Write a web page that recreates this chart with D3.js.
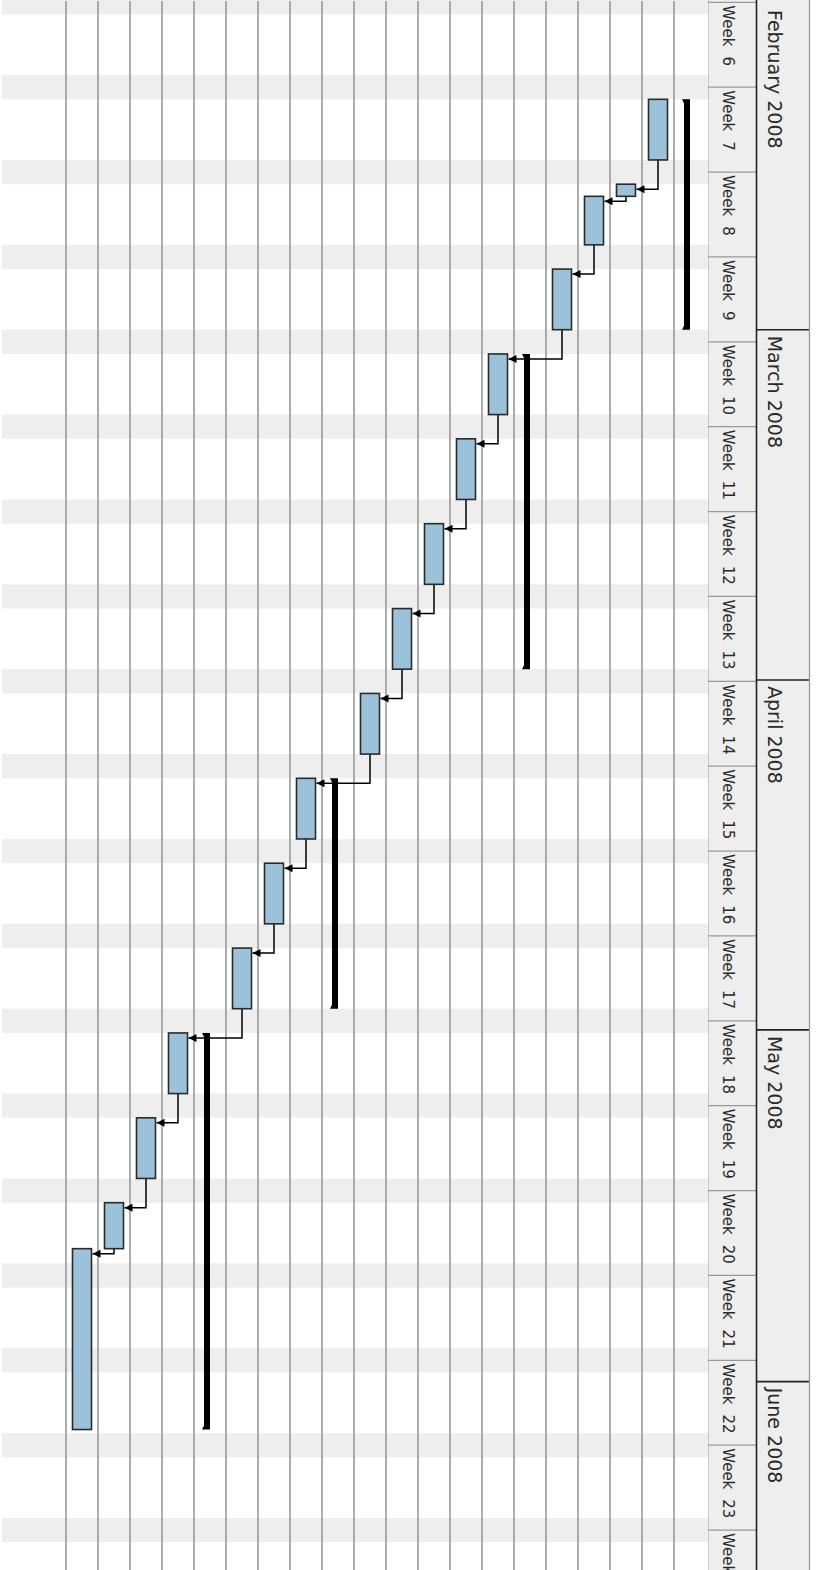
<!DOCTYPE html>
<html>
<head>
<meta charset="utf-8">
<script src="https://cdnjs.cloudflare.com/ajax/libs/d3/7.8.5/d3.min.js"></script>
<style>
body { margin: 0; background: #fff; }
text { font-family: "DejaVu Sans", sans-serif; fill: #2a2a2a; }
</style>
</head>
<body>
<div id="chart"></div>
<script>
// one entry per row, row 0 is the right-most one
var taskStart = ['2008-02-11', '2008-02-11', '2008-02-18', '2008-02-19', '2008-02-25',
                 '2008-03-03', '2008-03-03', '2008-03-10', '2008-03-17', '2008-03-24',
                 '2008-03-31', '2008-04-07', '2008-04-07', '2008-04-14', '2008-04-21',
                 '2008-04-28', '2008-04-28', '2008-05-05', '2008-05-12', '2008-05-15T19:00'];
var taskEnd   = ['2008-03-01', '2008-02-16', '2008-02-19', '2008-02-23', '2008-03-01',
                 '2008-03-29', '2008-03-08', '2008-03-15', '2008-03-22', '2008-03-29',
                 '2008-04-05', '2008-04-26', '2008-04-12', '2008-04-19', '2008-04-26',
                 '2008-05-30T17:00', '2008-05-03', '2008-05-10', '2008-05-15T19:00', '2008-05-30T17:00'];
var taskSummary = [true, false, false, false, false,
                   true, false, false, false, false,
                   false, true, false, false, false,
                   true, false, false, false, false];
var dependencies = [[1, 2], [2, 3], [3, 4], [4, 6], [6, 7], [7, 8], [8, 9], [9, 10],
                    [10, 12], [12, 13], [13, 14], [14, 16], [16, 17], [17, 18], [18, 19]];

var weekNumbers = [6, 7, 8, 9, 10, 11, 12, 13, 14, 15, 16, 17, 18, 19, 20, 21, 22, 23, 24];
var firstWeek = '2008-02-03';

var monthLabels = ['February 2008', 'March 2008', 'April 2008', 'May 2008', 'June 2008'];
var monthStarts = ['2008-02-01', '2008-03-01', '2008-03-29T21:20', '2008-04-27T18:00', '2008-05-26T18:15'];

var width = 822, height = 1570;
var rowCount = 22;

var parseDay = d3.utcParse('%Y-%m-%d');
var parseTime = d3.utcParse('%Y-%m-%dT%H:%M');
var parse = function(s){ return s.length > 10 ? parseTime(s) : parseDay(s); };

var tasks = taskStart.map(function(s, i){
    return {row: i, start: parse(s), end: parse(taskEnd[i]), summary: taskSummary[i]};
});

var svg = d3.select('#chart')
    .append('svg')
    .attr('width', width)
    .attr('height', height);

// time runs down the page, rows run from right to left
var y = d3.scaleUtc()
    .domain([parseDay('2008-02-10'), parseDay('2008-06-01')])
    .range([87.2, 1445.2]);

var x = d3.scaleBand()
    .domain(d3.range(rowCount))
    .range([706, 2]);

var rowW = x.bandwidth();
var chartRight = 708;

// weekend shading
var saturdays = d3.utcDay.range(parseDay('2008-01-20'), parseDay('2008-06-20'))
    .filter(function(d){ return d.getUTCDay() === 6; });

svg.selectAll('rect.weekend')
    .data(saturdays)
    .enter()
    .append('rect')
    .attr('class', 'weekend')
    .attr('x', 2)
    .attr('y', function(d){ return y(d); })
    .attr('width', chartRight - 2)
    .attr('height', function(d){ return y(d3.utcDay.offset(d, 2)) - y(d); })
    .attr('fill', '#eeeeee');

// row separators
svg.selectAll('line.row')
    .data(tasks)
    .enter()
    .append('line')
    .attr('class', 'row')
    .attr('x1', function(d){ return x(d.row); })
    .attr('x2', function(d){ return x(d.row); })
    .attr('y1', 1)
    .attr('y2', height)
    .attr('stroke', '#999')
    .attr('stroke-width', 1.6);

// header
var header = svg.append('g');
header.append('rect')
    .attr('x', chartRight)
    .attr('y', 0)
    .attr('width', 101)
    .attr('height', height)
    .attr('fill', '#eeeeee');

header.append('line')
    .attr('x1', chartRight + 0.5).attr('x2', chartRight + 0.5)
    .attr('y1', 0).attr('y2', height)
    .attr('stroke', '#c8c8c8');

var weekStarts = d3.utcWeek.range(parseDay('2008-01-27'), parseDay('2008-06-20'));
header.selectAll('line.week')
    .data(weekStarts)
    .enter()
    .append('line')
    .attr('class', 'week')
    .attr('x1', chartRight)
    .attr('x2', 756)
    .attr('y1', function(d){ return y(d); })
    .attr('y2', function(d){ return y(d); })
    .attr('stroke', '#999')
    .attr('stroke-width', 1.3);

var weekLab = header.selectAll('text.week')
    .data(weekNumbers)
    .enter()
    .append('text')
    .attr('class', 'week')
    .attr('font-size', 15)
    .attr('transform', function(d, i){
        var t = d3.utcWeek.offset(parseDay(firstWeek), i);
        return 'translate(723,' + (y(t) + 3) + ') rotate(90)';
    });
weekLab.append('tspan').text('Week');
weekLab.append('tspan').attr('dx', 10).text(function(d){ return d; });

header.append('line')
    .attr('x1', 756.5).attr('x2', 756.5)
    .attr('y1', 0).attr('y2', height)
    .attr('stroke', '#222')
    .attr('stroke-width', 1.6);

header.selectAll('line.month')
    .data(monthStarts)
    .enter()
    .append('line')
    .attr('class', 'month')
    .attr('x1', 756)
    .attr('x2', 809)
    .attr('y1', function(d){ return y(parse(d)); })
    .attr('y2', function(d){ return y(parse(d)); })
    .attr('stroke', '#222')
    .attr('stroke-width', 1.6);

header.selectAll('text.month')
    .data(monthLabels)
    .enter()
    .append('text')
    .attr('class', 'month')
    .attr('font-size', 19)
    .attr('transform', function(d, i){
        var p = Math.max(y(parse(monthStarts[i])), 4) + 6;
        return 'translate(768,' + p + ') rotate(90)';
    })
    .text(function(d){ return d; });

header.append('line')
    .attr('x1', 809.5).attr('x2', 809.5)
    .attr('y1', 0).attr('y2', height)
    .attr('stroke', '#999')
    .attr('stroke-width', 1.3);

// arrow marker
svg.append('defs')
    .append('marker')
    .attr('id', 'arrow')
    .attr('viewBox', '0 0 10 10')
    .attr('refX', 10)
    .attr('refY', 5)
    .attr('markerWidth', 9)
    .attr('markerHeight', 8)
    .attr('markerUnits', 'userSpaceOnUse')
    .attr('orient', 'auto')
    .append('path')
    .attr('d', 'M0,0L10,5L0,10Z')
    .attr('fill', '#000');

// dependency links
svg.selectAll('path.dep')
    .data(dependencies)
    .enter()
    .append('path')
    .attr('class', 'dep')
    .attr('d', function(d){
        var a = tasks[d[0]], b = tasks[d[1]];
        var sx = x(a.row) + rowW / 2;
        var ty = y(b.start) + 5;
        return 'M' + sx + ',' + y(a.end) + 'V' + ty + 'H' + (x(b.row) + rowW / 2 + 10.5);
    })
    .attr('fill', 'none')
    .attr('stroke', '#000')
    .attr('stroke-width', 1.5);

svg.selectAll('path.arrow')
    .data(dependencies)
    .enter()
    .append('path')
    .attr('class', 'arrow')
    .attr('d', function(d){
        var b = tasks[d[1]];
        var tx = x(b.row) + rowW / 2 + 10.5, ty = y(b.start) + 5;
        return 'M' + tx + ',' + ty + 'l8,-4v8z';
    })
    .attr('fill', '#000');

// task bars
svg.selectAll('rect.task')
    .data(tasks.filter(function(d){ return !d.summary; }))
    .enter()
    .append('rect')
    .attr('class', 'task')
    .attr('x', function(d){ return x(d.row) + 6.5; })
    .attr('y', function(d){ return y(d.start); })
    .attr('width', 19)
    .attr('height', function(d){ return y(d.end) - y(d.start); })
    .attr('fill', '#9cc2da')
    .attr('stroke', '#2a2a2a')
    .attr('stroke-width', 1.6);

// summary brackets
svg.selectAll('path.summary')
    .data(tasks.filter(function(d){ return d.summary; }))
    .enter()
    .append('path')
    .attr('class', 'summary')
    .attr('d', function(d){
        var x0 = x(d.row), y0 = y(d.start), y1 = y(d.end);
        return 'M' + (x0 + 8) + ',' + y0 + 'H' + (x0 + 16) + 'V' + y1 + 'H' + (x0 + 8)
            + 'L' + (x0 + 10) + ',' + (y1 - 4) + 'V' + (y0 + 4) + 'Z';
    })
    .attr('fill', '#000');
</script>
</body>
</html>
